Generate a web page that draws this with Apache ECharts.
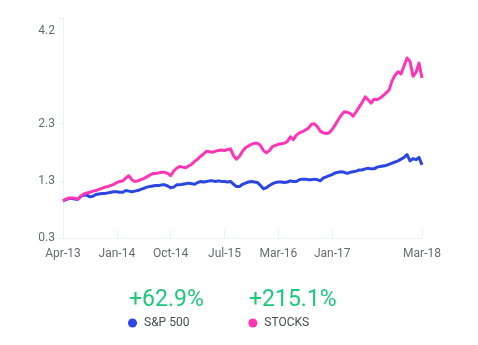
<!DOCTYPE html>
<html>
<head>
<meta charset="utf-8">
<script src="https://cdn.jsdelivr.net/npm/echarts@6/dist/echarts.min.js"></script>
<style>
  html, body { margin: 0; padding: 0; background: #ffffff; }
  #chart { width: 478px; height: 345px; }
</style>
</head>
<body>
<div id="chart"></div>
<script>
// Growth of 1 invested in April 2013, sampled roughly every two weeks.
const seriesNames = ['S&P 500', 'STOCKS'];
const seriesColors = ['#2b46e3', '#ff35b6'];
const gainColor = '#1cc97b';

const sp500 = [
  1.00, 1.02, 1.04, 1.04, 1.03, 1.03, 1.08, 1.10, 1.10, 1.07,
  1.08, 1.11, 1.12, 1.13, 1.13, 1.14, 1.15, 1.16, 1.16, 1.15,
  1.15, 1.18, 1.17, 1.16, 1.17, 1.18, 1.20, 1.22, 1.24, 1.25,
  1.26, 1.27, 1.27, 1.28, 1.28, 1.26, 1.23, 1.24, 1.28, 1.28,
  1.29, 1.30, 1.31, 1.30, 1.29, 1.32, 1.34, 1.33, 1.34, 1.35,
  1.35, 1.34, 1.35, 1.34, 1.34, 1.33, 1.34, 1.29, 1.25, 1.25,
  1.29, 1.31, 1.33, 1.34, 1.33, 1.32, 1.27, 1.21, 1.23, 1.27,
  1.30, 1.32, 1.33, 1.33, 1.32, 1.33, 1.35, 1.34, 1.34, 1.37,
  1.38, 1.38, 1.37, 1.37, 1.38, 1.37, 1.35, 1.40, 1.42, 1.44,
  1.46, 1.49, 1.50, 1.51, 1.50, 1.48, 1.50, 1.51, 1.52, 1.54,
  1.54, 1.56, 1.57, 1.56, 1.56, 1.59, 1.60, 1.61, 1.62, 1.64,
  1.66, 1.68, 1.70, 1.73, 1.76, 1.81, 1.70, 1.74, 1.72, 1.76,
  1.629
];

const stocks = [
  1.00, 1.03, 1.05, 1.05, 1.045, 1.03, 1.08, 1.12, 1.14, 1.15,
  1.17, 1.18, 1.20, 1.22, 1.24, 1.25, 1.27, 1.29, 1.32, 1.34,
  1.35, 1.40, 1.44, 1.37, 1.34, 1.35, 1.37, 1.39, 1.42, 1.45,
  1.48, 1.48, 1.49, 1.50, 1.50, 1.48, 1.44, 1.52, 1.57, 1.60,
  1.59, 1.58, 1.61, 1.64, 1.69, 1.73, 1.78, 1.82, 1.87, 1.86,
  1.85, 1.87, 1.88, 1.89, 1.88, 1.90, 1.91, 1.79, 1.73, 1.78,
  1.87, 1.93, 1.96, 1.99, 2.01, 2.01, 1.97, 1.88, 1.84, 1.88,
  1.95, 1.97, 1.99, 2.00, 2.01, 2.04, 2.12, 2.07, 2.15, 2.19,
  2.21, 2.24, 2.27, 2.34, 2.35, 2.30, 2.22, 2.19, 2.18, 2.19,
  2.25, 2.33, 2.42, 2.50, 2.56, 2.55, 2.53, 2.48, 2.56, 2.64,
  2.72, 2.82, 2.77, 2.71, 2.78, 2.77, 2.80, 2.84, 2.89, 2.94,
  3.10, 3.20, 3.26, 3.22, 3.36, 3.50, 3.44, 3.18, 3.25, 3.41,
  3.151
];

// Axis labelling
const xTickIndex = [0, 18, 36, 54, 72, 90, 120];
const xTickLabels = ['Apr-13', 'Jan-14', 'Oct-14', 'Jul-15', 'Mar-16', 'Jan-17', 'Mar-18'];
const yMin = 0.35;
const yMax = 4.2;
const yTickValues = [0.35, 1.35, 2.35, 4.2];
const yLabelValues = [0.35, 1.35, 2.35, 3.97];
const yTickLabels = ['0.3', '1.3', '2.3', '4.2'];

const seriesData = [sp500, stocks];
const categories = sp500.map((_, i) => i);

const axisColor = '#eceff3';
const labelColor = '#666b73';
const font = 'Roboto';

function gainText(values) {
  const pct = (values[values.length - 1] / values[0] - 1) * 100;
  return (pct >= 0 ? '+' : '') + pct.toFixed(1) + '%';
}

function yLabelFor(v) {
  let best = 0;
  yLabelValues.forEach((lv, i) => {
    if (Math.abs(lv - v) < Math.abs(yLabelValues[best] - v)) best = i;
  });
  return yTickLabels[best];
}

const chart = echarts.init(document.getElementById('chart'), null, { renderer: 'canvas' });

chart.setOption({
  animation: false,
  backgroundColor: '#ffffff',
  grid: { left: 63, right: 56, top: 18, bottom: 107 },
  xAxis: {
    type: 'category',
    data: categories,
    boundaryGap: false,
    axisLine: { show: true, lineStyle: { color: axisColor, width: 1 } },
    axisTick: {
      show: true,
      inside: true,
      length: 8,
      interval: (i) => xTickIndex.includes(i),
      lineStyle: { color: axisColor }
    },
    axisLabel: {
      interval: (i) => xTickIndex.includes(i),
      formatter: (v, i) => xTickLabels[xTickIndex.indexOf(i)] || '',
      color: labelColor,
      fontFamily: font,
      fontSize: 12,
      margin: 10
    },
    splitLine: { show: false }
  },
  yAxis: {
    type: 'value',
    min: yMin,
    max: yMax,
    axisLine: { show: true, lineStyle: { color: axisColor, width: 1 } },
    axisTick: {
      show: true,
      length: 4,
      customValues: yTickValues,
      lineStyle: { color: axisColor }
    },
    axisLabel: {
      customValues: yLabelValues,
      formatter: (v) => yLabelFor(v),
      color: labelColor,
      fontFamily: font,
      fontSize: 12,
      margin: 8
    },
    splitLine: { show: false }
  },
  legend: {
    data: seriesNames,
    icon: 'circle',
    itemWidth: 9,
    itemHeight: 9,
    itemGap: 59,
    padding: 0,
    left: 128,
    top: 317,
    textStyle: { color: '#474b52', fontFamily: font, fontSize: 12, padding: [0, 0, 0, 2] }
  },
  graphic: [
    {
      type: 'text',
      left: 129,
      top: 289,
      style: { text: gainText(sp500), fill: gainColor, font: '23px Roboto' }
    },
    {
      type: 'text',
      left: 249,
      top: 289,
      style: { text: gainText(stocks), fill: gainColor, font: '23px Roboto' }
    }
  ],
  series: seriesData.map((d, k) => ({
    name: seriesNames[k],
    type: 'line',
    data: d,
    showSymbol: false,
    symbol: 'circle',
    itemStyle: { color: seriesColors[k] },
    lineStyle: { color: seriesColors[k], width: 3, join: 'round' },
    z: 2 + k
  }))
});
</script>
</body>
</html>
